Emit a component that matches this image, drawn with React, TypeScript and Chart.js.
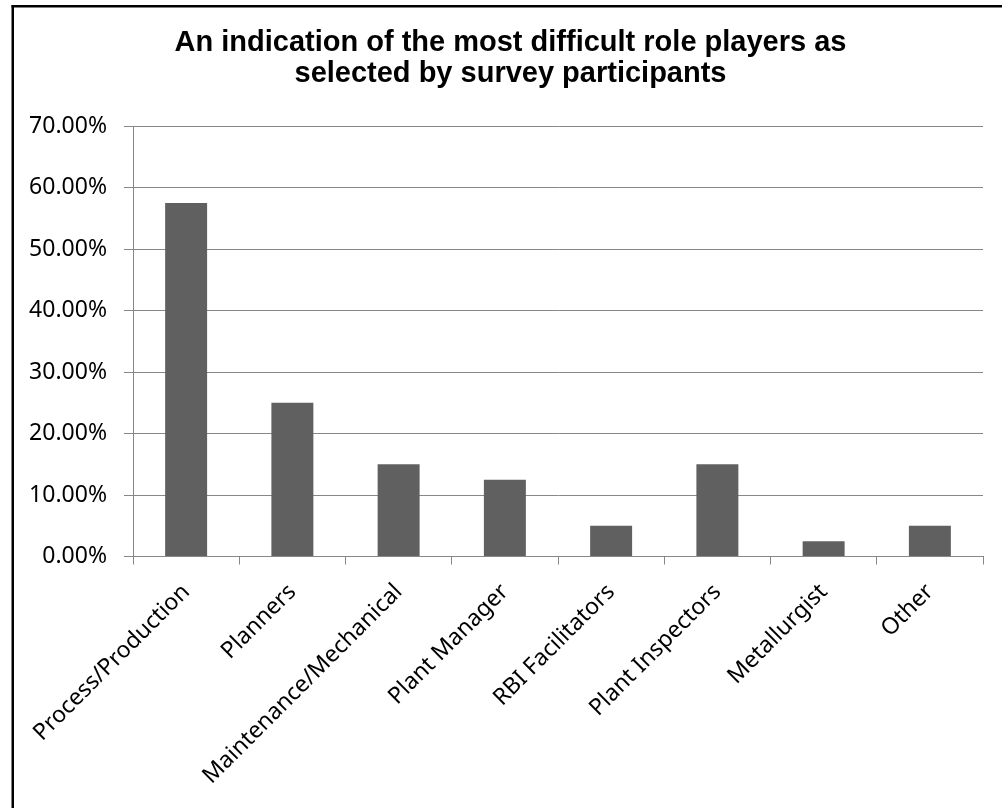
import React, { useEffect, useRef } from "react";
import { Chart, registerables } from "chart.js";

Chart.register(...registerables);

const categories = [
  "Process/Production",
  "Planners",
  "Maintenance/Mechanical",
  "Plant Manager",
  "RBI Facilitators",
  "Plant Inspectors",
  "Metallurgist",
  "Other",
];
const values = [57.5, 25, 15, 12.5, 5, 15, 2.5, 5];
const titleLines = [
  "An indication of the most difficult role players as",
  "selected by survey participants",
];
const yMin = 0;
const yMax = 70;
const yStep = 10;

const frame = {
  id: "frame",
  beforeDraw(chart: any) {
    const ctx = chart.ctx;
    ctx.save();
    ctx.fillStyle = "#ffffff";
    ctx.fillRect(0, 0, chart.width, chart.height);
    ctx.fillStyle = "#000000";
    ctx.fillRect(11.5, 5, 2.5, chart.height - 5);
    ctx.fillRect(11.5, 5, chart.width - 11.5, 2.5);
    ctx.restore();
  },
  afterDraw(chart: any) {
    const ctx = chart.ctx;
    ctx.save();
    ctx.fillStyle = "#000000";
    ctx.font = "bold 29px 'Liberation Sans', Arial, sans-serif";
    ctx.textAlign = "center";
    ctx.textBaseline = "middle";
    titleLines.forEach((line, i) => {
      ctx.fillText(line, 510.5, 43 + i * 31);
    });
    ctx.restore();
  },
};

export default function App() {
  const ref = useRef<HTMLCanvasElement | null>(null);
  useEffect(() => {
    if (!ref.current) return;
    const chart = new Chart(ref.current, {
      type: "bar",
      data: {
        labels: categories,
        datasets: [
          {
            data: values,
            backgroundColor: "#606060",
            borderWidth: 0,
            barPercentage: 1,
            categoryPercentage: 0.395,
          },
        ],
      },
      plugins: [frame],
      options: {
        animation: false,
        responsive: false,
        layout: { padding: { left: 0, right: 19, top: 126, bottom: 0 } },
        plugins: {
          legend: { display: false },
          tooltip: { enabled: false },
          title: { display: false },
        },
        scales: {
          x: {
            grid: {
              offset: true,
              drawOnChartArea: false,
              drawTicks: true,
              tickLength: 8,
              color: "#878787",
              lineWidth: 1,
            },
            border: { color: "#878787", width: 1 },
            ticks: {
              autoSkip: false,
              maxRotation: 45,
              minRotation: 45,
              color: "#000000",
              padding: 14,
              font: { family: "'Noto Sans', sans-serif", size: 23 },
            },
            afterFit: (scale: any) => {
              scale.height = 251.5;
            },
          },
          y: {
            min: yMin,
            max: yMax,
            ticks: {
              stepSize: yStep,
              color: "#000000",
              padding: 17,
              font: { family: "'Noto Sans', sans-serif", size: 23 },
              callback: (v: any) => Number(v).toFixed(2) + "%",
            },
            grid: {
              color: "#878787",
              lineWidth: 1,
              tickLength: 9,
              drawTicks: true,
            },
            border: { color: "#878787", width: 1 },
            afterFit: (scale: any) => {
              scale.width = 133;
            },
          },
        },
      },
    });
    return () => chart.destroy();
  }, []);
  return (
    <div style={{ position: "absolute", left: 0, top: 0, width: 1002, height: 808 }}>
      <canvas ref={ref} width={1002} height={808} style={{ width: 1002, height: 808, display: "block" }} />
    </div>
  );
}
